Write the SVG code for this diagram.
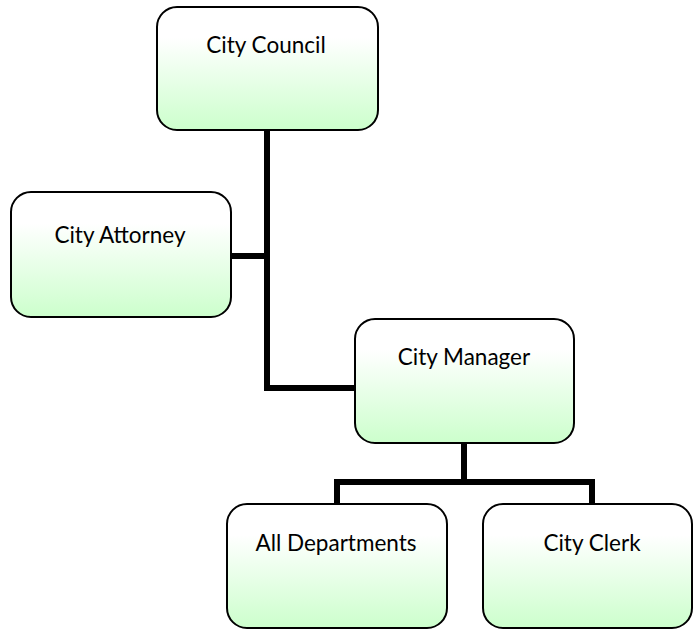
<svg xmlns="http://www.w3.org/2000/svg" width="693" height="629" viewBox="0 0 693 629">
<defs>
<linearGradient id="g" x1="0" y1="0" x2="0" y2="1">
<stop offset="0" stop-color="#ffffff"/>
<stop offset="0.25" stop-color="#ffffff"/>
<stop offset="1" stop-color="#ccffcc"/>
</linearGradient>
</defs>
<style>
.box{fill:url(#g);stroke:#000;stroke-width:2}
.lbl{font-family:Lato,"Open Sans","Liberation Sans",sans-serif;font-size:22.5px;fill:#000;text-anchor:middle}
.con{fill:none;stroke:#000;stroke-width:6;stroke-linejoin:miter}
</style>
<g id="connectors">
<polyline class="con" points="267,130 267,388 355,388"/>
<polyline class="con" points="231,256 267,256"/>
<polyline class="con" points="464,443 464,482"/>
<polyline class="con" points="337,504 337,482 592,482 592,504"/>
</g>
<g id="city-council">
<rect class="box" x="157" y="7" width="221" height="123" rx="20"/>
<text class="lbl" x="266" y="53">City Council</text>
</g>
<g id="city-attorney">
<rect class="box" x="11" y="192" width="220" height="125" rx="20"/>
<text class="lbl" x="120" y="243">City Attorney</text>
</g>
<g id="city-manager">
<rect class="box" x="355" y="319" width="219" height="124" rx="20"/>
<text class="lbl" x="464" y="365">City Manager</text>
</g>
<g id="all-departments">
<rect class="box" x="227" y="504" width="220" height="124" rx="20"/>
<text class="lbl" x="336" y="551">All Departments</text>
</g>
<g id="city-clerk">
<rect class="box" x="483" y="504" width="209" height="124" rx="20"/>
<text class="lbl" x="592" y="551">City Clerk</text>
</g>
</svg>
